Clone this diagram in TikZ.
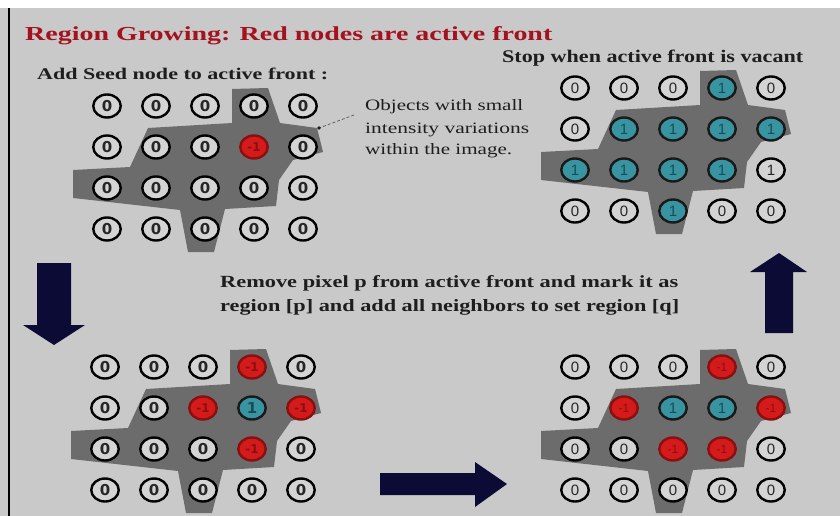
\documentclass[tikz,border=0pt]{standalone}
\usepackage{fontspec}
\setmainfont{Liberation Serif}
\newfontfamily\leftdigit{DejaVu Sans}
\newfontfamily\rightdigit{Liberation Sans}
\usetikzlibrary{shapes.geometric}

\definecolor{bggray}{HTML}{C9C9C9}
\definecolor{blobgray}{HTML}{6C6C6C}
\definecolor{titlered}{HTML}{A3121E}
\definecolor{navy}{HTML}{0B0B36}
\definecolor{frontred}{HTML}{D41A1A}
\definecolor{frontrim}{HTML}{8A0F0F}
\definecolor{regteal}{HTML}{3994A2}
\definecolor{tealtext}{HTML}{1A4C58}
\definecolor{celllight}{HTML}{D4D4D4}
\definecolor{inktext}{HTML}{1E1E1E}

% a line of text stretched to a given width and height
\newcommand\fitline[3]{\resizebox{#1}{#2}{#3}}

% cell labels by state: z = 0, o = unmarked 1, a = active front, r = region
\newcommand\gtxtz{0}
\newcommand\gtxto{1}
\newcommand\gtxta{\fontsize{12}{12}\selectfont -1}
\newcommand\gtxtr{1}

% a 4 x 5 grid of cells; #1 name prefix, #2 rows of states
\newcommand\cellgrid[2]{%
  \foreach \rowcells [count=\r] in {#2} {
    \foreach \s [count=\c] in \rowcells {
      \node[st\s] (#1-\r-\c) at ({(\c-1)*49},{(\r-1)*41}) {\csname gtxt\s\endcsname};
    }
  }%
}

\tikzset{
  digits/.style={font=\fontsize{15}{15}\selectfont\leftdigit\bfseries},
  cellbase/.style={ellipse, minimum width=27.5pt, minimum height=23pt,
    inner sep=0pt, line width=2.4pt, digits},
  stz/.style={cellbase, draw=black, fill=celllight, text=black!85},
  sto/.style={stz},
  sta/.style={cellbase, draw=frontrim, fill=frontred, text=frontrim},
  str/.style={cellbase, draw=black!90, fill=regteal, text=tealtext},
  textline/.style={anchor=base west, inner sep=0pt, text=inktext},
  blob/.pic={
    \fill[blobgray] (125,-17) -- (161,-18) -- (173,17) -- (210,22) -- (216,46)
      -- (186,54) -- (172,74) -- (169,100) -- (118,103) -- (107,146)
      -- (81,146) -- (73,104) -- (-34,92) -- (-34,64) -- (23,61) -- (41,22)
      -- (125,17) -- cycle;
    \coordinate (-tip) at (212,22);
  },
}

\begin{document}
\begin{tikzpicture}[x=1pt,y=-1pt]
  \useasboundingbox (0,0) rectangle (840,516);
  % page background, top strip and left rule
  \fill[bggray] (0,0) rectangle (840,516);
  \fill[white] (0,0) rectangle (840,8);
  \draw[line width=2pt] (9,8) -- (9,516);

  % headings
  \node[textline, text=titlered] (title) at (25,41)
    {\fitline{527pt}{14pt}{\bfseries Region Growing: Red nodes are active front}};
  \node[textline] (seedtxt) at (37,80)
    {\fitline{291pt}{11.5pt}{\bfseries Add Seed node to active front :}};
  \node[textline] (stoptxt) at (502,62.5)
    {\fitline{301pt}{12.5pt}{\bfseries Stop when active front is vacant}};
  \node[textline] (remove1) at (220,287)
    {\fitline{458pt}{12pt}{\bfseries Remove pixel p from active front and mark it as}};
  \node[textline] (remove2) at (220,311)
    {\fitline{459pt}{12pt}{\bfseries region [p] and add all neighbors to set region [q]}};

  % note on the object region
  \node[textline] (obj1) at (365,110.5) {\fitline{158pt}{11pt}{Objects with small}};
  \node[textline] (obj2) at (365,133) {\fitline{164pt}{10.5pt}{intensity variations}};
  \node[textline] (obj3) at (365,154) {\fitline{147pt}{11pt}{within the image.}};

  % step 1: seed
  \begin{scope}[shift={(107,106)}]
    \pic (b1) at (0,0) {blob};
    \cellgrid{ga}{{z,z,z,z,z},{z,z,z,a,z},{z,z,z,z,z},{z,z,z,z,z}}
  \end{scope}

  % step 2: first growth
  \begin{scope}[shift={(105,367)}]
    \pic (b3) at (0,0) {blob};
    \cellgrid{gc}{{z,z,z,a,z},{z,z,a,r,a},{z,z,z,a,z},{z,z,z,z,z}}
  \end{scope}

  % step 3: second growth
  \begin{scope}[shift={(575,367)}, digits/.style={font=\fontsize{15}{15}\selectfont\rightdigit}]
    \pic (b4) at (0,0) {blob};
    \cellgrid{gd}{{z,z,z,a,z},{z,a,r,r,a},{z,z,a,a,z},{z,z,z,z,z}}
  \end{scope}

  % final: region complete
  \begin{scope}[shift={(575,88)}, digits/.style={font=\fontsize{15}{15}\selectfont\rightdigit}]
    \pic (b2) at (0,0) {blob};
    \cellgrid{gb}{{z,z,z,r,z},{z,r,r,r,r},{r,r,r,r,o},{z,z,r,z,z}}
  \end{scope}

  % leader from the note to the region
  \coordinate (leadstart) at (354,115);
  \draw[inktext!70, line width=0.8pt, dash pattern=on 3pt off 2pt] (leadstart) -- (b1-tip);
  \fill[inktext] (b1-tip) circle (1.8pt);

  % block arrows between the steps
  \fill[navy] (37,263) -- (71,263) -- (71,325) -- (85,325) -- (54,345)
    -- (23,325) -- (37,325) -- cycle;
  \fill[navy] (380,473) -- (475,473) -- (475,462) -- (507,484) -- (475,507)
    -- (475,495) -- (380,495) -- cycle;
  \fill[navy] (765,333) -- (793,333) -- (793,272) -- (807,272) -- (779,253)
    -- (750,272) -- (765,272) -- cycle;
\end{tikzpicture}
\end{document}
